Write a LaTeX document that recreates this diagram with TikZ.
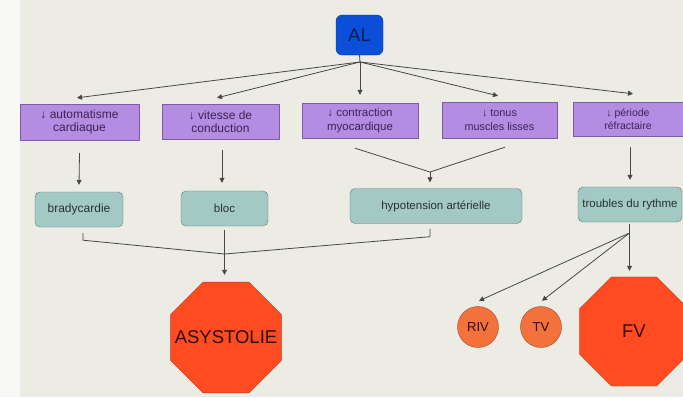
\documentclass[tikz,border=0pt]{standalone}
\usepackage{fontspec}
\setmainfont{Liberation Sans}
\usetikzlibrary{arrows.meta,shapes.geometric,calc}
\definecolor{bg}{HTML}{ECEBE4}
\definecolor{strip}{HTML}{F8F8F6}
\definecolor{linec}{HTML}{474747}
\definecolor{purplefill}{HTML}{B48CE2}
\definecolor{purpleline}{HTML}{7E5BA6}
\definecolor{purpletext}{HTML}{3B2456}
\definecolor{tealfill}{HTML}{A3C9C4}
\definecolor{tealline}{HTML}{5E7C78}
\definecolor{tealtext}{HTML}{26332F}
\definecolor{alfill}{HTML}{0B4FD8}
\definecolor{alline}{HTML}{0A3A9E}
\definecolor{altext}{HTML}{0B1E55}
\definecolor{redfill}{HTML}{FF4B22}
\definecolor{redline}{HTML}{B8401F}
\definecolor{orfill}{HTML}{F3713A}
\definecolor{orline}{HTML}{A04A28}
\definecolor{darktext}{HTML}{2E0A04}
\begin{document}
\begin{tikzpicture}[x=1pt,y=-1pt,
  fsize/.style={font=\fontsize{#1}{13.5}\selectfont},
  effectbox/.style={draw=purpleline, fill=purplefill, text=purpletext,
    minimum width=#1, minimum height=35pt, inner sep=0pt, align=center},
  outcome/.style={draw=tealline, fill=tealfill, text=tealtext, rounded corners=5pt,
    minimum width=#1, minimum height=35pt, inner sep=0pt,
    font=\fontsize{11.5}{13}\selectfont},
  rootbox/.style={draw=alline, fill=alfill, text=altext, rounded corners=6pt,
    minimum width=47pt, minimum height=40pt, inner sep=0pt,
    font=\fontsize{18.5}{20}\selectfont},
  stopsign/.style={regular polygon, regular polygon sides=8, draw=redline,
    fill=redfill, text=darktext, minimum size=#1, inner sep=0pt,
    font=\fontsize{18.5}{20}\selectfont},
  rhythm/.style={circle, draw=orline, fill=orfill, text=darktext,
    minimum size=41pt, inner sep=0pt, font=\fontsize{13}{14}\selectfont},
  link/.style={draw=linec, line width=0.8pt},
  arr/.style={link, -{Triangle[length=5pt,width=5pt]}}]

% background sheet
\useasboundingbox (0,0) rectangle (683,397);
\fill[bg] (0,0) rectangle (683,397);
\fill[strip] (0,0) rectangle (20,397);

% root
\node[rootbox] (al) at (359.5,35) {AL};
\coordinate (J) at (360,62);

% pharmacological effects
\node[effectbox=119pt, minimum height=36pt, fsize=12] (p1) at (79.5,122) {↓ automatisme\\cardiaque};
\node[effectbox=117pt, fsize=12] (p2) at (220.5,121.5) {↓ vitesse de\\conduction};
\node[effectbox=116pt, fsize=11.5] (p3) at (360,120.5) {↓ contraction\\myocardique};
\node[effectbox=115pt, minimum height=36pt, fsize=10.8] (p4) at (499.5,120) {↓ tonus\\muscles lisses};
\node[effectbox=110pt, minimum height=34pt, fsize=10.5] (p5) at (628,119) {↓ période\\réfractaire};

% clinical consequences
\node[outcome=88pt, font=\fontsize{12}{13}\selectfont] (b1) at (79,209.5) {bradycardie};
\node[outcome=87pt] (b2) at (224.5,208.5) {bloc};
\node[outcome=172pt] (b3) at (436,206) {hypotension artérielle};
\node[outcome=104pt] (b4) at (630,204.5) {troubles du rythme};

% final outcomes (zero-width labels so the octagon size is fixed)
\node[stopsign=120pt] (asy) at (226,337.5) {\makebox[0pt]{ASYSTOLIE}};
\node[rhythm] (riv) at (478,327) {RIV};
\node[rhythm] (tv) at (541,327) {TV};
\node[stopsign=118pt] (fv) at (634,331.5) {\makebox[0pt]{FV}};

% fan from the root
\draw[link] (al.south) -- (J);
\draw[arr] (J) -- ([xshift=-2.5pt,yshift=6pt]p1.north);
\draw[arr] (J) -- ([xshift=-3.5pt,yshift=6pt]p2.north);
\draw[arr] (J) -- ([yshift=8pt]p3.north);
\draw[arr] (J) -- ([xshift=-1.5pt,yshift=6pt]p4.north);
\draw[arr] (J) -- ([xshift=5pt,yshift=8pt]p5.north);

% effects to consequences
\draw[arr] ([yshift=-13pt]p1.south) -- ([yshift=7pt]b1.north);
\draw[arr] ([xshift=1.5pt,yshift=-11pt]p2.south) -- ([xshift=-2.5pt,yshift=8pt]b2.north);
\coordinate (H) at (430,172);
\draw[link] ([xshift=-5pt,yshift=-10pt]p3.south) -- (H) -- ([xshift=5.5pt,yshift=-9pt]p4.south);
\draw[arr] (H) -- ([xshift=-6pt,yshift=6pt]b3.north);
\draw[arr] ([xshift=2pt,yshift=-11pt]p5.south) -- ([yshift=7pt]b4.north);

% consequences to asystole
\coordinate (Y) at (224.5,254);
\draw[link] ([xshift=4pt,yshift=-6pt]b1.south) -- ++(0,7) -- (Y)
  -- ($(b3.south)+(-6,13)$) -- ([xshift=-6pt,yshift=-5pt]b3.south);
\draw[arr] ([yshift=-4pt]b2.south) -- ([xshift=-1.5pt,yshift=7pt]asy.north);

% rhythm disorders
\coordinate (F) at (629.5,233);
\draw[link] ([xshift=-0.5pt,yshift=-2pt]b4.south) -- (F);
\draw[arr] (F) -- ([xshift=1pt,yshift=5.5pt]riv.north);
\draw[arr] (F) -- ([xshift=1pt,yshift=5.5pt]tv.north);
\draw[arr] (F) -- ($(F |- fv.north)+(0,-6)$);
\end{tikzpicture}
\end{document}
